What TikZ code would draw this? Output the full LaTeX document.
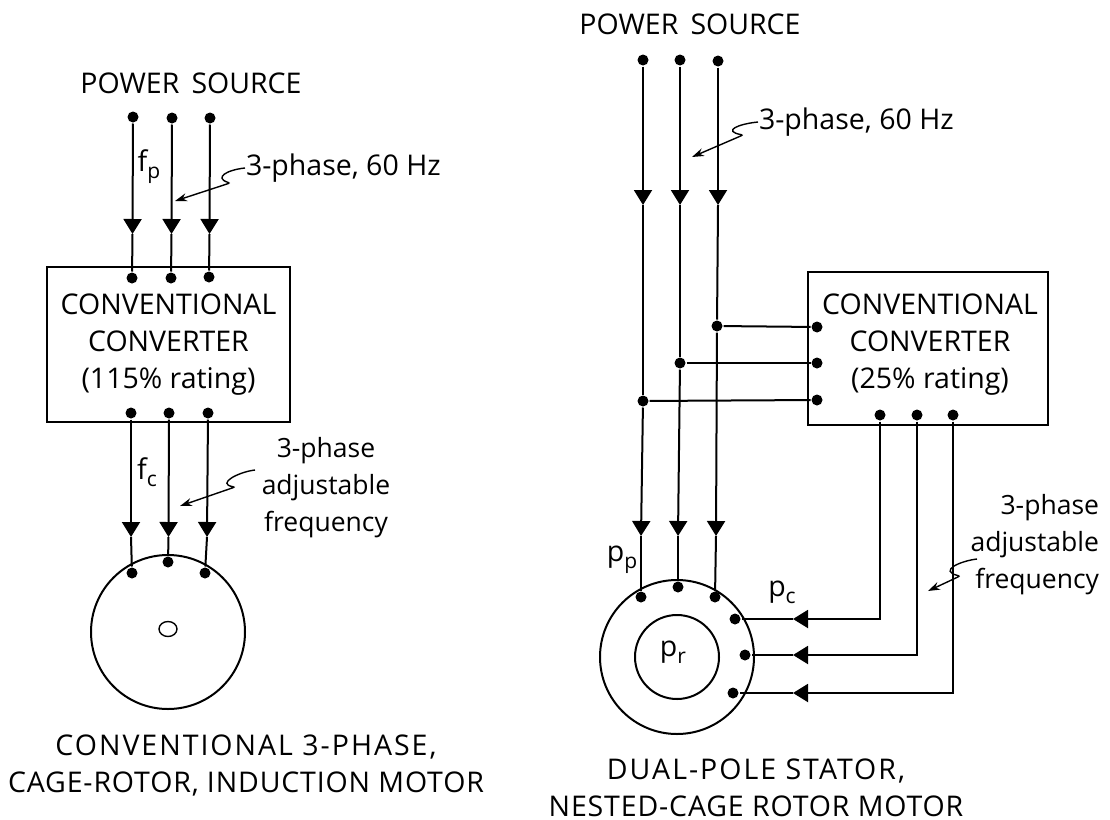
\documentclass[tikz,border=0pt]{standalone}
\usepackage{fontspec}
\setmainfont{Open Sans}
\newfontfamily\spacedwide[LetterSpace=7]{Open Sans}
\newfontfamily\spacedthin[LetterSpace=3]{Open Sans}
\usetikzlibrary{arrows.meta,positioning,shapes.geometric}
\newcommand{\lettering}{\fontsize{28.5}{37}\selectfont}
\newcommand{\sublabel}[2]{#1\raisebox{-7pt}{\fontsize{21}{21}\selectfont #2}}
\begin{document}
\begin{tikzpicture}[
      x=1pt,y=-1pt,
      line width=2pt,
      pointer/.style={-{Triangle[width=18pt,length=15pt]}},
      leader/.style={line width=1.4pt,-{Stealth[width=8pt,length=12pt]},rounded corners=2pt},
      dot/.style={circle,fill=black,inner sep=0pt,minimum size=11pt},
      unit/.style={draw,align=center,font=\lettering,inner sep=0pt},
      motor/.style={circle,draw,inner sep=0pt},
      caption/.style={align=center,font=\lettering,inner sep=0pt},
      note/.style={align=center,font=\lettering,inner sep=0pt},
      tight/.style={font=\fontsize{26.5}{37}\selectfont}
      ]
      \useasboundingbox (0,0) rectangle (1110,819);
      % left: induction motor
      \node[note] (sourceL) at (191,83) {POWER\, SOURCE};
      \node[unit,minimum width=243pt,minimum height=155pt] (convL) at (168.5,344.5) {CONVENTIONAL\\CONVERTER\\(115\% rating)};
      \node[motor,minimum size=154pt] (motorL) at (168,632) {};
      \node[ellipse,draw,line width=1.4pt,minimum width=18pt,minimum height=15pt,inner sep=0pt] (rotorL) at (168,629) {};
      \node[dot] (pa) at (133,117) {};
      \node[dot] (pb) at (172,118) {};
      \node[dot] (pc) at (210,118) {};
      \node[dot] (ia) at (132,278) {};
      \node[dot] (ib) at (171,278) {};
      \node[dot] (ic) at (209,277) {};
      \node[dot] (oa) at (131,413) {};
      \node[dot] (ob) at (169,413) {};
      \node[dot] (oc) at (208,413) {};
      \node[dot] (ma) at (132,573) {};
      \node[dot] (mb) at (168,562) {};
      \node[dot] (mc) at (205,573) {};
      \coordinate (ta) at (132.5,234);
      \coordinate (tb) at (171.5,234);
      \coordinate (tc) at (209.5,234);
      \coordinate (ua) at (131,537);
      \coordinate (ub) at (168.5,537);
      \coordinate (uc) at (207,537);
      \path (pa) edge [pointer] (ta) (ta) edge (ia);
      \path (pb) edge [pointer] (tb) (tb) edge (ib);
      \path (pc) edge [pointer] (tc) (tc) edge (ic);
      \path (oa) edge [pointer] (ua) (ua) edge (ma);
      \path (ob) edge [pointer] (ub) (ub) edge (mb);
      \path (oc) edge [pointer] (uc) (uc) edge (mc);
      \node[note] (fp) at (149,167) {\sublabel{f}{p}};
      \node[note] (fc) at (147,472) {\sublabel{f}{c}};
      \node[note,anchor=west] (phaseL) at (245,168) {3-phase, 60 Hz};
      \node[note,tight] (adjL) at (326,488) {3-phase\\adjustable\\frequency};
      \coordinate (startM) at (255,470);
      \coordinate (tipL) at (175,201);
      \coordinate (tipM) at (180,506);
      \draw[leader] (phaseL.west) .. controls (226,170) and (214,178) .. (230,183) -- (tipL);
      \draw[leader] (startM) .. controls (238,472) and (216,484) .. (235,487) -- (tipM);
      \node[caption] (capL) at (246,765) {{\spacedwide CONVENTIONAL 3-PHASE,}\\{\spacedthin CAGE-ROTOR, INDUCTION MOTOR}};
      % right: nested-cage motor
      \node[note] (sourceR) at (690,24) {POWER\, SOURCE};
      \node[unit,minimum width=240pt,minimum height=153pt] (convR) at (928,348.5) {};
      \node[note] (convText) at (930,345) {CONVENTIONAL\\CONVERTER\\(25\% rating)};
      \node[motor,minimum size=154pt] (motorR) at (677,657) {};
      \node[motor,minimum size=84pt] (rotorR) at (677,657) {};
      \node[note] (pr) at (673,652) {\sublabel{p}{r}};
      \node[dot] (qa) at (643,60) {};
      \node[dot] (qb) at (680,60) {};
      \node[dot] (qc) at (718,61) {};
      \node[dot] (ja) at (643,401) {};
      \node[dot] (jb) at (680,363) {};
      \node[dot] (jc) at (717,326) {};
      \node[dot] (ka) at (817,400) {};
      \node[dot] (kb) at (817,363) {};
      \node[dot] (kc) at (817,327) {};
      \node[dot] (ra) at (641,597) {};
      \node[dot] (rb) at (678,587) {};
      \node[dot] (rc) at (715,597) {};
      \node[dot] (sa) at (880,415) {};
      \node[dot] (sb) at (917,415) {};
      \node[dot] (sc) at (953,415) {};
      \node[dot] (da) at (735,619) {};
      \node[dot] (db) at (745,655) {};
      \node[dot] (dc) at (733,693) {};
      \coordinate (va) at (643,205);
      \coordinate (vb) at (680,205);
      \coordinate (vc) at (718,205);
      \coordinate (wa) at (641,536);
      \coordinate (wb) at (678,536);
      \coordinate (wc) at (716,536);
      \path (qa) edge [pointer] (va) (va) edge (ja);
      \path (qb) edge [pointer] (vb) (vb) edge (jb);
      \path (qc) edge [pointer] (vc) (vc) edge (jc);
      \path (ja) edge [pointer] (wa) (wa) edge (ra);
      \path (jb) edge [pointer] (wb) (wb) edge (rb);
      \path (jc) edge [pointer] (wc) (wc) edge (rc);
      \draw (jc) -- (kc);
      \draw (jb) -- (kb);
      \draw (ja) -- (ka);
      \coordinate (ha) at (793,619);
      \coordinate (hb) at (793,655);
      \coordinate (hc) at (793,693);
      \draw[pointer] (sa) |- (ha);
      \draw[pointer] (sb) |- (hb);
      \draw[pointer] (sc) |- (hc);
      \draw (ha) -- (da);
      \draw (hb) -- (db);
      \draw (hc) -- (dc);
      \node[note] (ppR) at (622,560) {\sublabel{p}{p}};
      \node[note] (pcR) at (782,592) {\sublabel{p}{c}};
      \node[note,anchor=west] (phaseR) at (758,122) {3-phase, 60 Hz};
      \node[note,tight,align=right,anchor=east] (adjR) at (1100,545) {3-phase\\adjustable\\frequency};
      \coordinate (startS) at (977,559);
      \coordinate (tipR) at (692,157);
      \coordinate (tipS) at (928,591);
      \draw[leader] (phaseR.west) .. controls (738,124) and (722,131) .. (743,135) -- (tipR);
      \draw[leader] (startS) .. controls (960,561) and (938,571) .. (960,576) -- (tipS);
      \node[caption] (capR) at (756,787.5) {{\spacedwide DUAL-POLE STATOR,}\\{\spacedthin NESTED-CAGE ROTOR MOTOR}};
    \end{tikzpicture}
\end{document}
